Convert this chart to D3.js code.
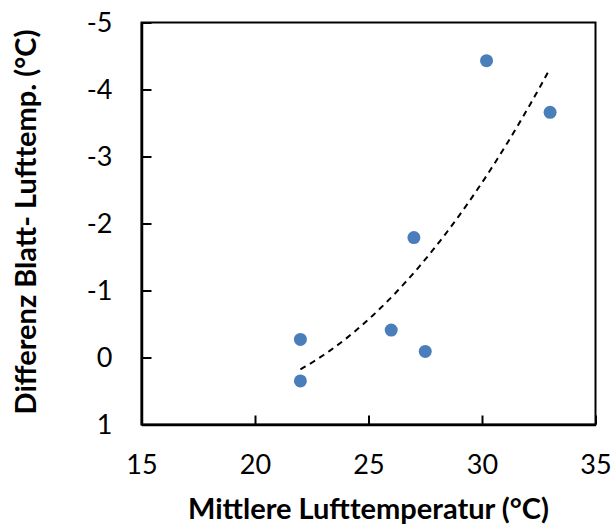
<!DOCTYPE html>
<html>
<head>
	<title></title>
	<script src="https://d3js.org/d3.v7.min.js"></script>
	<style>
		body { margin: 0; background: #fff; }
		text { font-family: Lato, "Open Sans", sans-serif; fill: #000; }
		.tick text { font-size: 27px; }
		.title { font-size: 29px; font-weight: bold; }
	</style>
</head>
<body>
	<svg width="611" height="525"></svg>
<script type="text/javascript">

	// Mittlere Lufttemperatur (°C)
	var airTemp = [22, 22, 26, 27, 27.5, 30.2, 33];
	// Differenz Blatt- Lufttemp. (°C)
	var tempDiff = [0.35, -0.27, -0.41, -1.79, -0.09, -4.43, -3.66];

	var xTicks = [15, 20, 25, 30, 35];
	var yTicks = [-5, -4, -3, -2, -1, 0, 1];

	var svg = d3.select("svg");
	const margin = {top: 22.5, right: 15.5, bottom: 100.5, left: 141.5};
	const width = +svg.attr("width") - margin.left - margin.right;
	const height = +svg.attr("height") - margin.top - margin.bottom;
	const g = svg.append("g").attr("transform", "translate(" + margin.left + "," + margin.top + ")");

	var x = d3.scaleLinear().domain([15, 35]).range([0, width]);
	// y axis is reversed: -5 on top, 1 at the bottom
	var y = d3.scaleLinear().domain([-5, 1]).range([0, height]);

	// plot area border
	g.append("rect")
		.attr("width", width)
		.attr("height", height)
		.attr("fill", "none")
		.attr("stroke", "#000")
		.attr("stroke-width", 2);

	const xAxis = g.append("g")
		.attr("transform", "translate(0," + height + ")")
		.call(d3.axisBottom(x).tickValues(xTicks).tickFormat(function(d) { return String(d); })
			.tickSizeInner(-9).tickSizeOuter(0).tickPadding(30));
	xAxis.select(".domain").attr("stroke-width", 2.5);
	xAxis.selectAll(".tick line").attr("stroke-width", 2);

	const yAxis = g.append("g")
		.call(d3.axisLeft(y).tickValues(yTicks).tickFormat(function(d) { return String(d); })
			.tickSizeInner(-10).tickSizeOuter(0).tickPadding(29));
	yAxis.select(".domain").attr("stroke-width", 2.5);
	yAxis.selectAll(".tick line").attr("stroke-width", 2);

	// polynomial (order 2) least squares trendline
	function polyFit(xs, ys) {
		var n = xs.length, S = [0, 0, 0, 0, 0], T = [0, 0, 0];
		for (var i = 0; i < n; i++) {
			for (var k = 0; k < 5; k++) S[k] += Math.pow(xs[i], k);
			for (var k = 0; k < 3; k++) T[k] += ys[i] * Math.pow(xs[i], k);
		}
		var A = [[S[0], S[1], S[2], T[0]], [S[1], S[2], S[3], T[1]], [S[2], S[3], S[4], T[2]]];
		for (var c = 0; c < 3; c++) {
			for (var r = c + 1; r < 3; r++) {
				var f = A[r][c] / A[c][c];
				for (var k = c; k < 4; k++) A[r][k] -= f * A[c][k];
			}
		}
		var coef = [0, 0, 0];
		for (var r = 2; r >= 0; r--) {
			var s = A[r][3];
			for (var k = r + 1; k < 3; k++) s -= A[r][k] * coef[k];
			coef[r] = s / A[r][r];
		}
		return coef;
	}
	var coef = polyFit(airTemp, tempDiff);
	var x0 = d3.min(airTemp), x1 = d3.max(airTemp);
	var trend = d3.range(0, 101).map(function(i) {
		var t = x0 + (x1 - x0) * i / 100;
		return [t, coef[0] + coef[1] * t + coef[2] * t * t];
	});

	g.append("path")
		.datum(trend)
		.attr("fill", "none")
		.attr("stroke", "#000")
		.attr("stroke-width", 2)
		.attr("stroke-dasharray", "6,5")
		.attr("d", d3.line()
			.x(function(d) { return x(d[0]); })
			.y(function(d) { return y(d[1]); }));

	g.append("g")
		.selectAll("circle")
		.data(airTemp)
		.enter().append("circle")
		.attr("cx", function(d) { return x(d); })
		.attr("cy", function(d, i) { return y(tempDiff[i]); })
		.attr("r", 6.5)
		.attr("fill", "#4A7EBB");

	svg.append("text")
		.attr("class", "title")
		.attr("text-anchor", "middle")
		.attr("x", margin.left + width / 2)
		.attr("y", 519)
		.text("Mittlere Lufttemperatur (°C)");

	svg.append("text")
		.attr("class", "title")
		.attr("text-anchor", "middle")
		.attr("transform", "translate(36," + 222 + ") rotate(-90)")
		.text("Differenz Blatt- Lufttemp. (°C)");

</script>
</body>
</html>
